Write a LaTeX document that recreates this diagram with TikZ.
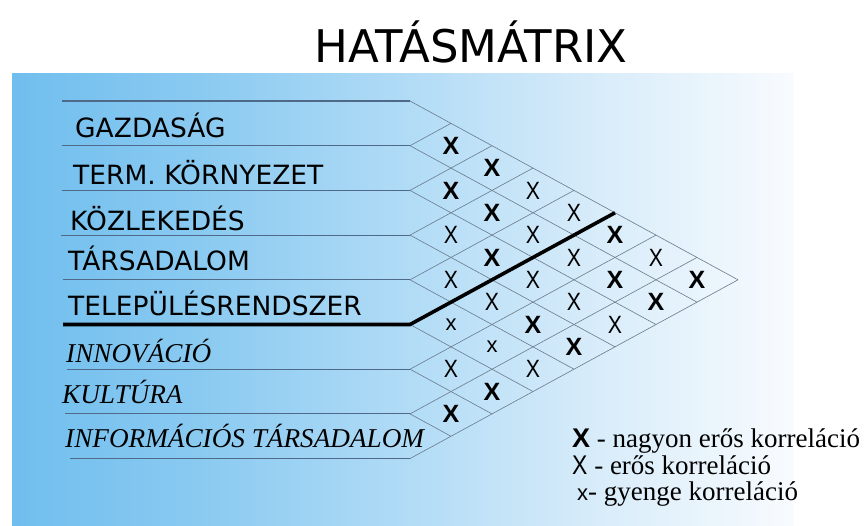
\documentclass[tikz,border=0pt]{standalone}
\usepackage{fontspec}
\setmainfont{Liberation Serif}
\newfontfamily\comicfont{DejaVu Sans}
\newfontfamily\arialfont{Liberation Sans}
\definecolor{bgA}{RGB}{112,190,238}
\definecolor{bgB}{RGB}{138,202,241}
\definecolor{bgC}{RGB}{176,219,246}
\definecolor{bgD}{RGB}{216,236,250}
\definecolor{bgE}{RGB}{248,251,254}
\definecolor{rowcol}{RGB}{78,106,136}
\definecolor{gridcol}{RGB}{105,122,140}
\pgfdeclarehorizontalshading{bgshade}{100bp}{color(0bp)=(bgA); color(25bp)=(bgA); color(37bp)=(bgB); color(50bp)=(bgC); color(62.5bp)=(bgD); color(75bp)=(bgE); color(100bp)=(bgE)}
\tikzset{
  rowline/.style={draw=rowcol, line width=1.1pt},
  gridln/.style={draw=gridcol, line width=0.6pt},
  sepline/.style={draw=black, line width=3.6pt, line join=miter},
  boldcell/.style={inner sep=0pt, font=\arialfont\bfseries\fontsize{25}{25}\selectfont},
  normcell/.style={inner sep=0pt, font=\arialfont\fontsize{25}{25}\selectfont},
  smallcell/.style={inner sep=0pt, font=\arialfont\fontsize{22}{22}\selectfont},
  sanslabel/.style={anchor=base west, inner sep=0pt, font=\comicfont\fontsize{26.5}{26.5}\selectfont},
  itlabel/.style={anchor=base west, inner sep=0pt, font=\itshape\fontsize{27.2}{27.2}\selectfont},
  legend/.style={anchor=base west, inner sep=0pt, font=\fontsize{27}{27}\selectfont}
}
\newcommand\narrowX{\scalebox{0.85}[1]{X}}
\begin{document}
\begin{tikzpicture}[x=1pt,y=-1pt]
\useasboundingbox (0,0) rectangle (865,525);
\shade[shading=bgshade] (12,73) rectangle (793,525);
\node[anchor=base, inner sep=0pt, font=\comicfont\fontsize{45}{45}\selectfont] (title) at (471,62) {HATÁSMÁTRIX};
% grid points
\foreach \k in {0,...,8} {
  \coordinate (L\k) at (410,{101+44.7*\k});
  \coordinate (T\k) at ({410+41*\k},{101+22.35*\k});
  \coordinate (B\k) at ({410+41*(8-\k)},{101+22.35*(8+\k)});
}
\foreach \k/\xs in {0/62,1/62,2/62,3/61,4/63,6/67,7/65,8/70}
  \coordinate (H\k) at (\xs,{101+44.7*\k});
\coordinate (H5) at (63,{101+44.7*5});
% grid lines
\foreach \k in {0,...,7} \draw[gridln] (L\k) -- (B\k);
\foreach \k in {1,...,8} \draw[gridln] (L\k) -- (T\k);
\foreach \k in {0,1,2,3,4,6,7,8} \draw[rowline] (H\k) -- (L\k);
\draw[sepline] (H5) -- (L5) -- (T5);
% labels
\node[sanslabel] (g) at (75,137) {GAZDASÁG};
\node[sanslabel] (tk) at (73,184) {TERM. KÖRNYEZET};
\node[sanslabel] (kz) at (70,230) {KÖZLEKEDÉS};
\node[sanslabel] (ts) at (68,270) {TÁRSADALOM};
\node[sanslabel] (tr) at (68,315) {TELEPÜLÉSRENDSZER};
\node[itlabel] (in) at (66,362) {INNOVÁCIÓ};
\node[itlabel] (ku) at (62,403) {KULTÚRA};
\node[itlabel] (it) at (65,447) {INFORMÁCIÓS TÁRSADALOM};
% cells
\foreach \i/\j in {1/2,1/3,1/6,1/8,2/3,2/4,2/7,2/8,3/5,4/7,4/8,6/8,7/8}
  \node[boldcell] (c\i\j) at ({410+41*(\j-\i)},{101+22.35*(\i+\j-1)}) {X};
\foreach \i/\j in {1/4,1/5,1/7,2/5,2/6,3/4,3/6,3/7,3/8,4/5,4/6,5/8,6/7}
  \node[normcell] (c\i\j) at ({410+41*(\j-\i)},{101+22.35*(\i+\j-1)}) {\narrowX};
\foreach \i/\j in {5/6,5/7}
  \node[smallcell] (c\i\j) at ({410+41*(\j-\i)},{101+22.35*(\i+\j-1)}) {x};
% legend
\node[legend] (leg1) at (572,447) {{\arialfont\bfseries X} - nagyon erős korreláció};
\node[legend] (leg2) at (572,474) {{\arialfont\narrowX} - erős korreláció};
\node[legend] (leg3) at (577,500) {{\arialfont\fontsize{22}{22}\selectfont x}- gyenge korreláció};
\end{tikzpicture}
\end{document}
